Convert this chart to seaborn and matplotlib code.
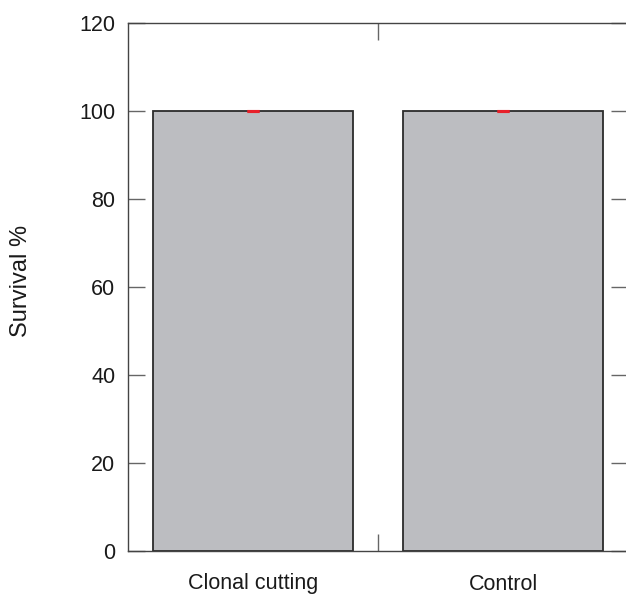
import matplotlib
matplotlib.use("Agg")
import matplotlib.pyplot as plt
import seaborn as sns
import pandas as pd

categories = ["Clonal cutting", "Control"]
survival = [100, 100]
errors = [0, 0]
y_ticks = [0, 20, 40, 60, 80, 100, 120]

sns.set_style("white")
plt.rcParams['font.family'] = ['Liberation Sans', 'DejaVu Sans']

df = pd.DataFrame({"Treatment": categories, "Survival": survival})

fig = plt.figure(figsize=(6.26, 5.95), dpi=100)
ax = fig.add_axes([128/626, 44/595, 500/626, 528/595])

sns.barplot(data=df, x="Treatment", y="Survival", color="#BCBDC1",
            edgecolor="#2b2b2b", linewidth=1.3, width=0.8, errorbar=None,
            saturation=1, ax=ax)
ax.errorbar(range(len(categories)), survival, yerr=errors, fmt="none",
            ecolor="#e8202a", elinewidth=1.5, capsize=4.5, capthick=2.2, zorder=5)

ax.set_xlim(-0.5, 1.5)
ax.set_ylim(0, 120)
ax.set_yticks(y_ticks)
ax.set_yticklabels([str(t) for t in y_ticks], fontsize=15.5, color="#1a1a1a")
ax.tick_params(axis="y", direction="in", length=12, width=1, color="#666666",
               right=True, left=True, pad=9)
# tick between categories
ax.set_xticks([0.5])
ax.set_xticklabels([""])
ax.tick_params(axis="x", direction="in", length=12, width=1, color="#666666",
               top=True, bottom=True)
for i, c in enumerate(categories):
    ax.text(i, -7.5, c, ha="center", va="center", fontsize=15.5, color="#1a1a1a",
            transform=ax.transData)
ax.set_xlabel("")
ax.set_ylabel("")
fig.text(21/626, 1 - 281/595, "Survival %", rotation=90, ha="center", va="center",
         fontsize=17, color="#1a1a1a")
for s in ax.spines.values():
    s.set_visible(True)
    s.set_color("#444444")
    s.set_linewidth(1.0)

fig.savefig("out.png", dpi=100)
